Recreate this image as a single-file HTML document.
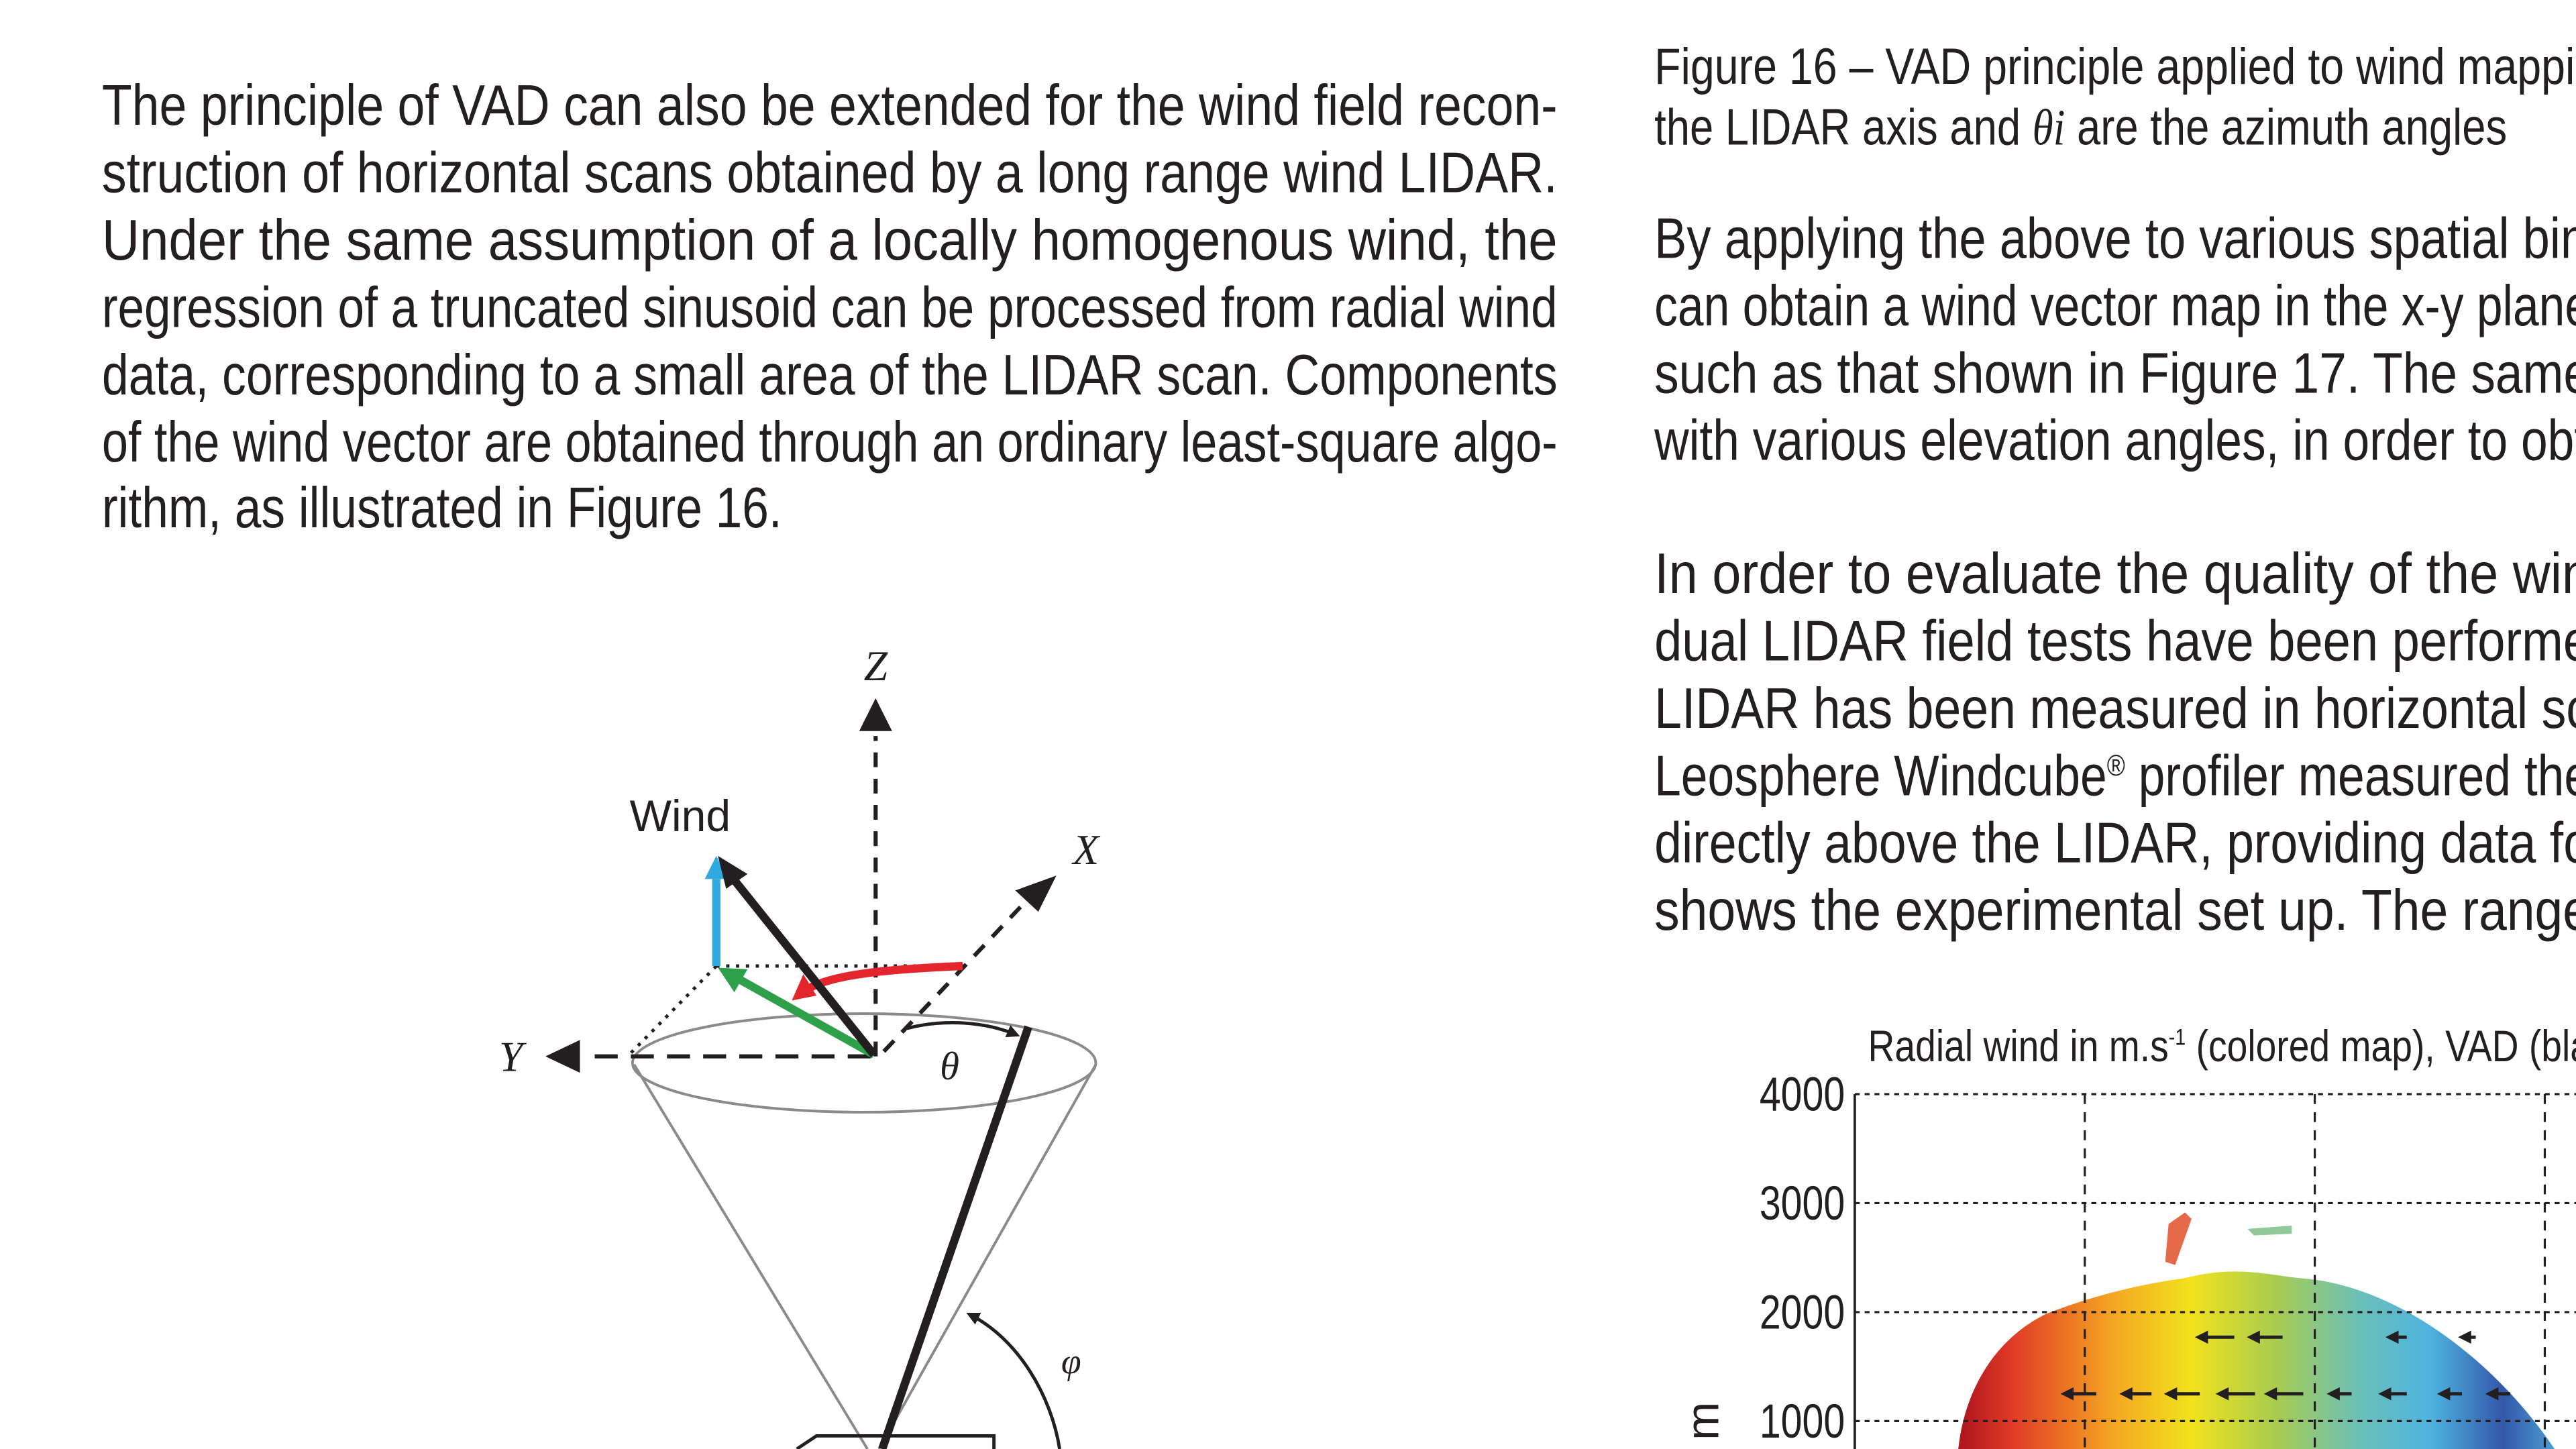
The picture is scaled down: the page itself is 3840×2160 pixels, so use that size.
<!DOCTYPE html>
<html><head><meta charset="utf-8"><style>
html,body{margin:0;padding:0;background:#fff;overflow:hidden}
svg{display:block}
.t{font-family:"Liberation Sans Narrow","Liberation Sans",sans-serif;fill:#231f20}
.m{font-family:"Liberation Serif",serif;font-style:italic;fill:#231f20}
</style></head><body>
<svg width="3840" height="2160" viewBox="0 0 1568 882" xmlns="http://www.w3.org/2000/svg">
<defs>
<linearGradient id="wg" x1="1195" y1="0" x2="1560" y2="0" gradientUnits="userSpaceOnUse">
<stop offset="0" stop-color="#b0171f"/><stop offset="0.08" stop-color="#e03a26"/><stop offset="0.25" stop-color="#f5a623"/>
<stop offset="0.38" stop-color="#f2e21d"/><stop offset="0.52" stop-color="#a9cc4f"/><stop offset="0.66" stop-color="#6cc0b8"/>
<stop offset="0.78" stop-color="#4eb3e0"/><stop offset="0.9" stop-color="#3358a8"/><stop offset="1" stop-color="#4fa8d8"/>
</linearGradient>
<marker id="ah" markerWidth="8" markerHeight="8" refX="6" refY="4" orient="auto" markerUnits="userSpaceOnUse"><path d="M0,0 L8,4 L0,8 z" fill="#231f20"/></marker>
</defs>

<g class="t" font-size="35">
<text x="62" y="76" textLength="886" lengthAdjust="spacingAndGlyphs">The principle of VAD can also be extended for the wind field recon-</text>
<text x="62" y="117" textLength="886" lengthAdjust="spacingAndGlyphs">struction of horizontal scans obtained by a long range wind LIDAR.</text>
<text x="62" y="158" textLength="886" lengthAdjust="spacingAndGlyphs">Under the same assumption of a locally homogenous wind, the</text>
<text x="62" y="199" textLength="886" lengthAdjust="spacingAndGlyphs">regression of a truncated sinusoid can be processed from radial wind</text>
<text x="62" y="240" textLength="886" lengthAdjust="spacingAndGlyphs">data, corresponding to a small area of the LIDAR scan. Components</text>
<text x="62" y="281" textLength="886" lengthAdjust="spacingAndGlyphs">of the wind vector are obtained through an ordinary least-square algo-</text>
<text x="62" y="321" textLength="414" lengthAdjust="spacingAndGlyphs">rithm, as illustrated in Figure 16.</text>
</g>

<g class="t" font-size="31">
<text x="1007" y="51" textLength="575" lengthAdjust="spacingAndGlyphs">Figure 16 – VAD principle applied to wind mappin</text>
<text x="1007" y="88" textLength="519" lengthAdjust="spacingAndGlyphs">the LIDAR axis and <tspan font-family="Liberation Serif" font-style="italic">θi</tspan> are the azimuth angles</text>
</g>
<g class="t" font-size="35">
<text x="1007" y="157" textLength="568" lengthAdjust="spacingAndGlyphs">By applying the above to various spatial bin</text>
<text x="1007" y="198" textLength="570" lengthAdjust="spacingAndGlyphs">can obtain a wind vector map in the x-y plane</text>
<text x="1007" y="239" textLength="570" lengthAdjust="spacingAndGlyphs">such as that shown in Figure 17. The same</text>
<text x="1007" y="280" textLength="568" lengthAdjust="spacingAndGlyphs">with various elevation angles, in order to obt</text>
</g>
<g class="t" font-size="35">
<text x="1007" y="361" textLength="570" lengthAdjust="spacingAndGlyphs">In order to evaluate the quality of the win</text>
<text x="1007" y="402" textLength="570" lengthAdjust="spacingAndGlyphs">dual LIDAR field tests have been performe</text>
<text x="1007" y="443" textLength="570" lengthAdjust="spacingAndGlyphs">LIDAR has been measured in horizontal sc</text>
<text x="1007" y="484" textLength="570" lengthAdjust="spacingAndGlyphs">Leosphere Windcube<tspan font-size="18" dy="-12">®</tspan><tspan dy="12"> profiler measured the</tspan></text>
<text x="1007" y="525" textLength="570" lengthAdjust="spacingAndGlyphs">directly above the LIDAR, providing data fo</text>
<text x="1007" y="566" textLength="570" lengthAdjust="spacingAndGlyphs">shows the experimental set up. The range</text>
</g>

<g fill="none" stroke-linecap="butt">
<ellipse cx="526" cy="647" rx="141" ry="30" stroke="#8a8a8a" stroke-width="1.6"/>
<line x1="386" y1="648" x2="528" y2="882" stroke="#8a8a8a" stroke-width="1.6"/>
<line x1="667" y1="648" x2="535" y2="882" stroke="#8a8a8a" stroke-width="1.6"/>
<line x1="533" y1="643" x2="533" y2="448" stroke="#231f20" stroke-width="2.5" stroke-dasharray="9,7"/>
<path d="M533,425 L523,445 L543,445 z" fill="#231f20"/>
<line x1="538" y1="640" x2="625" y2="548" stroke="#231f20" stroke-width="2.5" stroke-dasharray="9,7"/>
<path d="M643,533 L632,555 L618,542 z" fill="#231f20"/>
<line x1="530" y1="643" x2="355" y2="643" stroke="#231f20" stroke-width="2.5" stroke-dasharray="14,8"/>
<path d="M332,643 L353,633 L353,653 z" fill="#231f20"/>
<line x1="436" y1="588" x2="590" y2="588" stroke="#231f20" stroke-width="2" stroke-dasharray="2,4"/>
<line x1="436" y1="588" x2="382" y2="643" stroke="#231f20" stroke-width="2" stroke-dasharray="2,4"/>
<line x1="436" y1="588" x2="436" y2="535" stroke="#2fa9df" stroke-width="5"/>
<path d="M436,521 L429,535 L443,535 z" fill="#2fa9df"/>
<path d="M586,588 C540,590 505,593 490,603" stroke="#e3262d" stroke-width="5"/>
<path d="M482,609 L489,593 L497,606 z" fill="#e3262d"/>
<line x1="532" y1="642" x2="448" y2="595" stroke="#2ea04a" stroke-width="5"/>
<path d="M437,589 L455,590 L447,604 z" fill="#2ea04a"/>
<line x1="532" y1="642" x2="444" y2="532" stroke="#231f20" stroke-width="5"/>
<path d="M437,521 L455,532 L442,541 z" fill="#231f20"/>
<line x1="626" y1="625" x2="537" y2="882" stroke="#231f20" stroke-width="5"/>
<path d="M552,626 C575,620 600,622 619,630" stroke="#231f20" stroke-width="2" marker-end="url(#ah)"/>
<path d="M645,882 C640,850 620,815 590,800" stroke="#231f20" stroke-width="2" marker-end="url(#ah)"/>
<path d="M485,882 L497,874 L605,874 L605,882" stroke="#231f20" stroke-width="2"/>
</g>
<g>
<text class="m" x="533" y="414" font-size="26" text-anchor="middle">Z</text>
<text class="m" x="661" y="526" font-size="26" text-anchor="middle">X</text>
<text class="m" x="311" y="652" font-size="26" text-anchor="middle">Y</text>
<text class="m" x="578" y="657" font-size="24" text-anchor="middle">θ</text>
<text class="m" x="652" y="836" font-size="22" text-anchor="middle">φ</text>
<text class="t" x="414" y="506" font-size="27" text-anchor="middle">Wind</text>
</g>

<g id="chart">
<text class="t" x="1137" y="646" font-size="27" textLength="440" lengthAdjust="spacingAndGlyphs">Radial wind in m.s<tspan font-size="14" dy="-10">-1</tspan><tspan dy="10"> (colored map), VAD (bla</tspan></text>
<text class="t" transform="translate(1046,865) rotate(-90)" font-size="28" text-anchor="middle">m</text>
<path d="M1192,882 C1196,845 1215,815 1245,800 C1270,790 1300,782 1330,778 C1360,770 1380,776 1400,778 C1460,782 1520,830 1555,882 z" fill="url(#wg)"/>
<path d="M1320,745 L1330,738 L1334,742 L1324,770 L1318,768 z" fill="#e0502a" opacity="0.85"/>
<path d="M1368,748 L1395,746 L1395,751 L1372,752 z" fill="#7ec08a" opacity="0.85"/>
<g id="grid"></g>
<g id="ticks"></g>
<g id="vectors"></g>
<line x1="1129" y1="666" x2="1129" y2="882" stroke="#231f20" stroke-width="1.5"/>
</g>
</svg>
<script>
const yTicks=[1000,2000,3000,4000];
const yTickLabels=["1000","2000","3000","4000"];
const xGrid=[1,2,3];
const vecRowHeights=[1770,1250];
const vecRowX=[[0.55,0.62,0.8,0.9],[0.35,0.43,0.5,0.58,0.65,0.72,0.8,0.88,0.95]];
const vecU=[[-1,-0.9,-0.5,-0.4],[-0.9,-0.8,-0.9,-1,-1,-0.6,-0.7,-0.6,-0.6]];
const NS="http://www.w3.org/2000/svg";
function yScale(v){return 865-(v-1000)*(199/3000);}
function xScale(g){return 1129+g*140;}
function xFrac(f){return 1129+f*420;}
const grid=document.getElementById('grid'),ticks=document.getElementById('ticks'),vec=document.getElementById('vectors');
yTicks.forEach((v,i)=>{
  const y=yScale(v);
  const l=document.createElementNS(NS,'line');
  
  
  l.setAttribute('x1',1129);l.setAttribute('x2',1568);l.setAttribute('y1',y);l.setAttribute('y2',y);
  l.setAttribute('stroke','#231f20');l.setAttribute('stroke-width','1.3');l.setAttribute('stroke-dasharray','3,3');
  grid.appendChild(l);
  const t=document.createElementNS(NS,'text');
  
  
  t.setAttribute('class','t');t.setAttribute('x',1071);t.setAttribute('y',y+10);t.setAttribute('font-size','29');
  t.setAttribute('textLength','52');t.setAttribute('lengthAdjust','spacingAndGlyphs');
  t.textContent=yTickLabels[i];ticks.appendChild(t);
});
xGrid.forEach(g=>{
  const x=xScale(g);
  const l=document.createElementNS(NS,'line');
  
  
  l.setAttribute('x1',x);l.setAttribute('x2',x);l.setAttribute('y1',666);l.setAttribute('y2',882);
  l.setAttribute('stroke','#231f20');l.setAttribute('stroke-width','1.3');l.setAttribute('stroke-dasharray','6,5');
  grid.appendChild(l);
});
vecRowHeights.forEach((h,r)=>{
  const y=yScale(h);
  vecRowX[r].forEach((f,i)=>{
    const x=xFrac(f),dx=vecU[r][i]*22;
    const l=document.createElementNS(NS,'line');
    
    
    l.setAttribute('x1',x);l.setAttribute('y1',y);l.setAttribute('x2',x+dx);l.setAttribute('y2',y);
    l.setAttribute('stroke','#231f20');l.setAttribute('stroke-width','2');l.setAttribute('marker-end','url(#ah)');
    vec.appendChild(l);
  });
});
</script>
</body></html>
